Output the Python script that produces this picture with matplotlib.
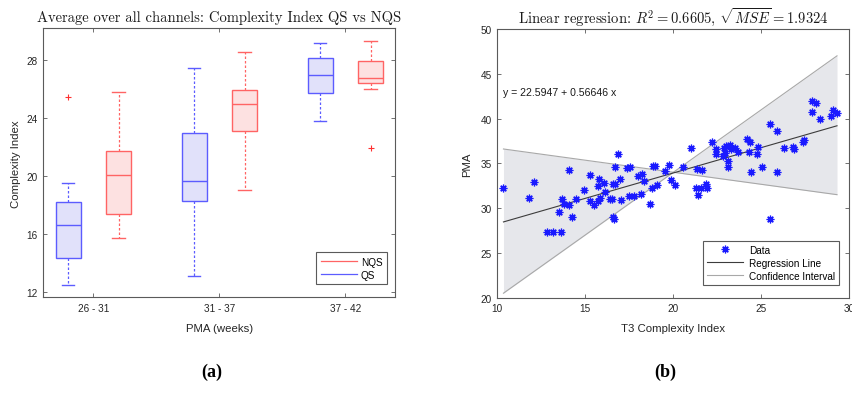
import matplotlib
matplotlib.use("Agg")
import matplotlib.pyplot as plt
import numpy as np

plt.rcParams['font.family'] = ['Liberation Sans', 'DejaVu Sans']
plt.rcParams['mathtext.fontset'] = 'cm'

# ---------------- data (a) ----------------
groups = ['26 - 31', '31 - 37', '37 - 42']
qs_low = [12.48, 13.06, 23.79]
qs_q1 = [14.32, 18.23, 25.66]
qs_med = [16.62, 19.61, 26.92]
qs_q3 = [18.14, 22.94, 28.09]
qs_high = [19.47, 27.40, 29.13]
qs_out = [[25.43], [], []]

nqs_low = [15.68, 18.99, 25.98]
nqs_q1 = [17.36, 23.10, 26.37]
nqs_med = [20.02, 24.90, 26.74]
nqs_q3 = [21.66, 25.93, 27.90]
nqs_high = [25.79, 28.50, 29.31]
nqs_out = [[], [], [21.93]]

# ---------------- data (b) ----------------
x_data = [10.34, 11.78, 12.1, 12.8, 13.18, 13.6, 13.5, 13.65, 13.78, 14.1, 14.1, 14.25,
          14.47, 14.94, 15.27, 15.27, 15.5, 15.7, 15.7, 15.8, 15.85, 16.05, 16.1, 16.4,
          16.5, 16.55, 16.6, 16.65, 16.7, 16.7, 16.85, 16.95, 17.0, 17.35, 17.5, 17.55,
          17.75, 18.0, 18.2, 18.15, 18.35, 18.7, 18.8, 18.85, 18.95, 19.06, 19.5, 19.75,
          19.85, 20.1, 20.55, 21.0, 21.3, 21.35, 21.4, 21.65, 21.6, 21.85, 21.9, 22.2,
          22.4, 22.45, 22.85, 22.9, 22.95, 23.0, 23.1, 23.1, 23.2, 23.3, 23.5, 23.7,
          24.2, 24.35, 24.3, 24.4, 24.75, 24.8, 25.05, 25.5, 25.5, 25.9, 25.9, 26.3,
          26.8, 26.85, 27.35, 27.4, 27.9, 28.1, 27.9, 28.35, 28.95, 29.1, 29.3]
y_data = [32.27, 31.12, 32.9, 27.3, 27.3, 27.3, 29.6, 31.0, 30.5, 34.3, 30.3, 29.0,
          31.0, 32.0, 33.7, 30.78, 30.3, 30.8, 32.45, 33.3, 31.1, 32.8, 31.8, 31.0,
          31.0, 32.7, 29.0, 28.8, 34.6, 32.7, 36.0, 33.2, 30.9, 34.5, 31.4, 34.6,
          31.3, 33.6, 33.8, 31.6, 33.0, 30.5, 32.2, 34.75, 34.75, 32.6, 34.1, 34.8,
          33.1, 32.6, 34.6, 36.7, 32.3, 34.4, 31.5, 34.3, 32.3, 32.7, 32.2, 37.4,
          36.6, 36.0, 35.8, 36.7, 36.2, 36.9, 35.3, 34.6, 37.1, 36.6, 36.7, 36.3,
          37.7, 37.4, 36.3, 34.0, 36.0, 36.8, 34.6, 39.4, 28.8, 38.6, 34.0, 36.7,
          36.8, 36.6, 37.4, 37.6, 42.0, 41.7, 40.7, 40.0, 40.3, 40.9, 40.6]
intercept = 22.5947
slope = 0.56646
r2 = 0.6605
rmse = 1.9324
ci_x = [10.35, 29.3]
ci_line_a = [36.6, 31.5]
ci_line_b = [20.5, 47.0]

fig = plt.figure(figsize=(8.53, 4.10), dpi=100)

axc = '#5a5a5a'
tick_fs = 7.2
lab_fs = 8.2

def style_axes(ax):
    for s in ax.spines.values():
        s.set_color(axc)
        s.set_linewidth(0.8)
    ax.tick_params(direction='in', top=True, right=True, length=3, width=0.6,
                   color=axc, labelsize=tick_fs, labelcolor='#262626', pad=4)

# ---------------- (a) ----------------
ax1 = fig.add_axes([0.0508, 0.2724, 0.4127, 0.656])
blue_e, blue_f = '#5c5cff', '#e1e1fa'
red_e, red_f = '#ff6464', '#fde1e1'
pos = np.arange(1, len(groups) + 1)

def make_stats(low, q1, med, q3, high, out):
    return [dict(whislo=a, q1=b, med=c, q3=d, whishi=e, fliers=f)
            for a, b, c, d, e, f in zip(low, q1, med, q3, high, out)]

for stats, offset, ec, fc in [
        (make_stats(qs_low, qs_q1, qs_med, qs_q3, qs_high, qs_out), -0.2, blue_e, blue_f),
        (make_stats(nqs_low, nqs_q1, nqs_med, nqs_q3, nqs_high, nqs_out), 0.2, red_e, red_f)]:
    ax1.bxp(stats, positions=pos + offset, widths=0.2, patch_artist=True,
            boxprops=dict(facecolor=fc, edgecolor=ec, linewidth=1.0),
            medianprops=dict(color=ec, linewidth=1.0),
            whiskerprops=dict(color=ec, linewidth=0.9, linestyle=(0, (2, 1.6))),
            capprops=dict(color=ec, linewidth=1.0),
            capwidths=0.1,
            flierprops=dict(marker='+', markeredgecolor='#ff3030', markersize=5,
                            markeredgewidth=0.8, linestyle='none'),
            manage_ticks=False)

ax1.set_xlim(0.603, 3.397)
ax1.set_ylim(11.6, 30.15)
ax1.set_xticks(pos)
ax1.set_xticklabels(groups)
ax1.set_yticks([12, 16, 20, 24, 28])
style_axes(ax1)
ax1.set_xlabel('PMA (weeks)', fontsize=lab_fs, color='#262626', labelpad=7)
ax1.set_ylabel('Complexity Index', fontsize=lab_fs, color='#262626', labelpad=4)
ax1.set_title('Average over all channels: Complexity Index QS vs NQS',
              fontsize=10.5, pad=5, color='#1a1a1a', fontfamily='cmr10')
h1, = ax1.plot([], [], color=red_e, lw=0.9, label='NQS')
h2, = ax1.plot([], [], color=blue_e, lw=0.9, label='QS')
leg1 = ax1.legend(handles=[h1, h2], loc='lower right', fontsize=7.2, fancybox=False,
                  framealpha=1, edgecolor=axc, handlelength=3.6, borderpad=0.45,
                  handletextpad=0.4, labelspacing=0.3, bbox_to_anchor=(0.99, 0.03))
leg1.get_frame().set_linewidth(0.8)

# ---------------- (b) ----------------
ax2 = fig.add_axes([0.583, 0.2715, 0.4127, 0.6554])
cx = np.linspace(ci_x[0], ci_x[1], 200)
la = np.interp(cx, ci_x, ci_line_a)
lb = np.interp(cx, ci_x, ci_line_b)
ax2.fill_between(cx, np.minimum(la, lb), np.maximum(la, lb), color='#e6e7eb', lw=0)
ax2.plot(cx, la, color='#a8a8a8', lw=0.8)
ax2.plot(cx, lb, color='#a8a8a8', lw=0.8)
rx = np.array(ci_x)
ax2.plot(rx, intercept + slope * rx, color='#3c3c3c', lw=0.8)
ax2.plot(x_data, y_data, linestyle='none', marker=(8, 2, 0), markersize=5.5,
         markeredgecolor='#1a1aff', markeredgewidth=0.9)
ax2.text(ci_x[0], 43.0, f'y = {intercept} + {slope} x', fontsize=7.6,
         va='center', ha='left', color='#1a1a1a')
ax2.set_xlim(10, 30)
ax2.set_ylim(20, 50)
ax2.set_xticks([10, 15, 20, 25, 30])
ax2.set_yticks([20, 25, 30, 35, 40, 45, 50])
style_axes(ax2)
ax2.set_xlabel('T3 Complexity Index', fontsize=lab_fs, color='#262626', labelpad=7)
ax2.set_ylabel('PMA', fontsize=lab_fs, color='#262626', labelpad=6)
ax2.set_title('Linear regression: $R^2 = %.4f$, $\\sqrt{MSE} = %.4f$' % (r2, rmse),
              fontsize=10.5, pad=5, color='#1a1a1a', fontfamily='cmr10')
d, = ax2.plot([], [], linestyle='none', marker=(8, 2, 0), markersize=5.5,
              markeredgecolor='#1a1aff', markeredgewidth=0.9, label='Data')
r, = ax2.plot([], [], color='#3c3c3c', lw=0.8, label='Regression Line')
c, = ax2.plot([], [], color='#a8a8a8', lw=0.8, label='Confidence Interval')
leg2 = ax2.legend(handles=[d, r, c], loc='lower right', fontsize=7.2, fancybox=False,
                  framealpha=1, edgecolor=axc, handlelength=3.6, borderpad=0.4,
                  handletextpad=0.6, labelspacing=0.3, bbox_to_anchor=(0.985, 0.03))
leg2.get_frame().set_linewidth(0.8)

# panel labels
fig.text(0.2485, 0.092, '(a)', fontsize=13, fontweight='bold', family='Liberation Serif',
         ha='center', va='center')
fig.text(0.7795, 0.092, '(b)', fontsize=13, fontweight='bold', family='Liberation Serif',
         ha='center', va='center')

fig.savefig('out.png', dpi=100)
